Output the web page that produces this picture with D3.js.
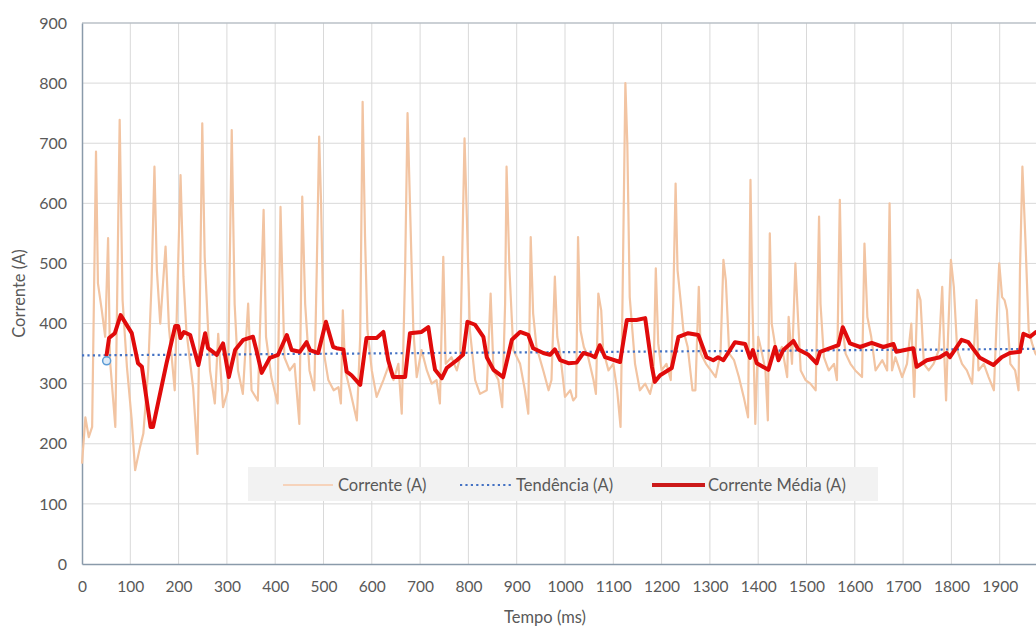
<!DOCTYPE html>
<html><head><meta charset="utf-8">
<script src="https://cdn.jsdelivr.net/npm/d3@7"></script>
<style>
html,body{margin:0;padding:0;background:#fff;}
svg{display:block;font-family:Lato,"Open Sans",sans-serif;}
</style></head>
<body>
<script>
// ---- data ----
const xTicks = [0,100,200,300,400,500,600,700,800,900,1000,1100,1200,1300,1400,1500,1600,1700,1800,1900];
const yTicks = [0,100,200,300,400,500,600,700,800,900];

const correnteT = [0,7,14,21,29,33,41,48,54,58,69,78,84,93,103,110,120,127,137,144,150,155,162,173,180,192,204,210,216,230,239,244,249,254,265,275,282,292,302,310,316,323,333,344,351,364,376,381,392,405,411,419,430,440,450,456,462,471,481,486,491,495,
 501,510,521,531,536,540,545,555,569,576,581,586,591,600,610,624,634,645,655,662,669,674,679,686,693,703,714,724,734,741,748,753,765,776,783,792,797,803,814,824,838,846,852,862,870,876,879,885,893,907,917,924,929,934,941,955,966,972,979,984,
 990,1000,1011,1017,1023,1027,1032,1039,1048,1059,1064,1069,1075,1079,1090,1100,1108,1115,1119,1125,1129,1134,1145,1155,1166,1176,1183,1188,1193,1200,1210,1219,1224,1229,1233,1240,1245,1254,1264,1270,1277,1281,1292,1302,1312,1322,1328,1333,1340,1350,1360,1370,1379,1384,1388,1394,1400,1408,1415,1420,1424,1428,1439,1449,1460,1463,1470,1477,
 1483,1488,1498,1508,1519,1526,1529,1536,1546,1557,1563,1569,1574,1581,1591,1601,1615,1620,1626,1634,1643,1657,1667,1672,1677,1684,1698,1708,1717,1723,1730,1736,1743,1753,1763,1774,1781,1786,1789,1793,1799,1805,1812,1822,1832,1843,1852,1856,1867,1877,1888,1894,1899,1905,1910,1915,1922,1932,1939,1942,1947,1953,1960,1967,1974,1985];
const correnteV = [167,244,211,228,686,467,422,378,542,339,228,739,439,328,239,156,194,217,322,467,661,489,400,528,394,289,647,478,389,294,183,433,733,511,322,267,383,261,289,722,433,322,283,433,289,272,589,378,311,267,594,344,322,333,233,611,433,322,289,489,711,600,
 350,306,289,294,267,422,322,289,239,378,769,544,389,322,278,306,328,306,333,250,489,750,600,389,311,356,322,300,306,267,511,333,344,322,344,708,572,389,306,283,289,450,322,306,261,433,661,489,356,333,289,250,544,417,361,322,289,306,478,378,
 350,278,289,272,278,544,389,361,344,306,283,450,422,356,322,333,289,228,433,800,700,444,333,289,300,283,306,492,367,322,333,306,433,633,489,433,389,361,289,289,461,350,333,322,311,350,506,472,350,339,311,278,244,639,433,233,378,350,322,239,550,400,344,361,311,411,333,500,
 400,322,306,300,289,578,433,344,322,333,306,606,400,350,333,322,311,533,411,378,322,339,322,600,322,344,311,333,400,278,456,439,333,322,333,356,461,333,272,378,506,461,356,333,322,300,439,322,333,311,289,411,500,444,439,422,333,322,289,489,661,544,389,367,350,340];

const mediaT = [51,56,68,80,103,116,124,142,147,175,193,199,204,211,224,241,255,261,279,292,304,317,334,354,361,372,389,406,424,434,451,465,472,489,505,520,527,541,548,558,576,589,610,624,634,644,669,679,703,717,724,731,745,755,776,789,798,814,831,838,852,872,890,907,924,934,955,969,979,990,1007,1024,1038,1052,1062,1072,1083,1114,1128,1148,1166,1180,1186,1197,1221,1235,1255,1276,1293,1307,1317,1328,1352,1373,1383,1389,1397,1421,1435,1442,1452,1473,1483,1504,1521,1528,1549,1566,1575,1590,1611,1635,1659,1680,1686,1721,1728,1749,1776,1790,1797,1821,1835,1859,1887,1904,1921,1942,1949,1963,1975,1990];
const mediaV = [348,376,384,414,384,334,328,228,228,334,396,396,376,386,381,331,384,359,348,367,311,356,373,378,356,318,343,348,381,356,353,369,356,351,403,361,359,357,320,314,298,376,376,386,339,311,311,384,386,394,356,323,309,326,339,348,403,398,378,344,323,311,373,386,381,359,351,348,357,339,334,335,351,348,344,364,344,336,406,406,409,328,303,314,326,378,384,381,344,339,344,339,369,366,343,356,334,323,361,339,356,371,357,348,334,353,359,364,394,367,361,368,361,366,353,359,328,339,344,351,344,373,369,343,331,344,351,353,383,378,386,386];

const trendT = [0, 2000];
const trendV = [347, 358];

const markerT = [51];
const markerV = [338];

const seriesNames = ["Corrente (A)", "Tendência (A)", "Corrente Média (A)"];

// ---- chart ----
const W = 1036, H = 626;
const svg = d3.select("body").append("svg").attr("width", W).attr("height", H);

const x = d3.scaleLinear().domain([0, 2000]).range([82, 82 + 966]);
const y = d3.scaleLinear().domain([0, 900]).range([564, 23]);

const gridColor = "#d9d9d9", axisColor = "#8a9aaa", textColor = "#595959";

// gridlines
svg.append("g").selectAll("line").data(yTicks.filter(d => d > 0)).join("line")
  .attr("x1", 82).attr("x2", W).attr("y1", d => y(d)).attr("y2", d => y(d))
  .attr("stroke", gridColor).attr("stroke-width", 1);
svg.append("g").selectAll("line").data(xTicks.filter(d => d > 0)).join("line")
  .attr("x1", d => x(d)).attr("x2", d => x(d)).attr("y1", y(900)).attr("y2", y(0))
  .attr("stroke", gridColor).attr("stroke-width", 1);

// top border
svg.append("line").attr("x1", 82).attr("x2", W).attr("y1", y(900)).attr("y2", y(900))
  .attr("stroke", "#a9b4be").attr("stroke-width", 1.2);

// axes
const yAxis = d3.axisLeft(y).tickValues(yTicks).tickSize(0).tickPadding(15).tickFormat(d3.format("d"));
const gy = svg.append("g").attr("transform", "translate(82,0)").call(yAxis);
gy.select(".domain").attr("stroke", axisColor).attr("stroke-width", 1.5);
gy.selectAll("text").attr("fill", textColor).attr("font-size", 16).attr("font-family", "Lato");

const xAxis = d3.axisBottom(x).tickValues(xTicks).tickSize(0).tickPadding(17).tickFormat(d3.format("d"));
const gx = svg.append("g").attr("transform", `translate(0,${y(0)})`).call(xAxis);
gx.select(".domain").attr("stroke", axisColor).attr("stroke-width", 1.5);
gx.selectAll("text").attr("fill", textColor).attr("font-size", 15.5).attr("font-family", "Lato");

// axis titles
svg.append("text").attr("transform", `translate(25,${(y(900)+y(0))/2}) rotate(-90)`)
  .attr("text-anchor", "middle").attr("fill", textColor).attr("font-size", 16.5).text("Corrente (A)");
svg.append("text").attr("x", 545).attr("y", 623).attr("text-anchor", "middle")
  .attr("fill", textColor).attr("font-size", 16.5).text("Tempo (ms)");

// series
const tan = "#f2c4a2", red = "#e00b0b", blue = "#4472c4";
const plot = svg.append("g");

const corrData = correnteT.map((t, i) => [t, correnteV[i]]);
plot.append("path").datum(corrData)
  .attr("d", d3.line().x(d => x(d[0])).y(d => y(d[1])))
  .attr("fill", "none").attr("stroke", tan).attr("stroke-width", 2.2).attr("stroke-linejoin", "round");

const trendData = trendT.map((t, i) => [t, trendV[i]]);
plot.append("path").datum(trendData)
  .attr("d", d3.line().x(d => x(d[0])).y(d => y(d[1])))
  .attr("fill", "none").attr("stroke", blue).attr("stroke-width", 2.2)
  .attr("stroke-dasharray", "2.2,3.2");

const mediaData = mediaT.map((t, i) => [t, mediaV[i]]);
plot.append("path").datum(mediaData)
  .attr("d", d3.line().x(d => x(d[0])).y(d => y(d[1])))
  .attr("fill", "none").attr("stroke", red).attr("stroke-width", 4)
  .attr("stroke-linejoin", "round").attr("stroke-linecap", "round");

plot.selectAll("circle.mk").data(markerT.map((t, i) => [t, markerV[i]])).join("circle")
  .attr("class", "mk").attr("cx", d => x(d[0])).attr("cy", d => y(d[1])).attr("r", 4)
  .attr("fill", "#deebf7").attr("stroke", "#5b9bd5").attr("stroke-width", 1.5);

// legend
const lg = svg.append("g");
lg.append("rect").attr("x", 248).attr("y", 467).attr("width", 630).attr("height", 34).attr("fill", "#f2f2f2");
const legendItems = [
  {name: seriesNames[0], x1: 283, x2: 333, tx: 338, color: "#f6d3bb", w: 2, dash: null},
  {name: seriesNames[1], x1: 460, x2: 512, tx: 516, color: blue, w: 2.2, dash: "2.2,3.2"},
  {name: seriesNames[2], x1: 652, x2: 705, tx: 708, color: "#cc1a1a", w: 4, dash: null}
];
legendItems.forEach(it => {
  const l = lg.append("line").attr("x1", it.x1).attr("x2", it.x2).attr("y1", 485).attr("y2", 485)
    .attr("stroke", it.color).attr("stroke-width", it.w);
  if (it.dash) l.attr("stroke-dasharray", it.dash);
  lg.append("text").attr("x", it.tx).attr("y", 490.5).attr("fill", textColor).attr("font-size", 16.5).text(it.name);
});
</script>
</body></html>
